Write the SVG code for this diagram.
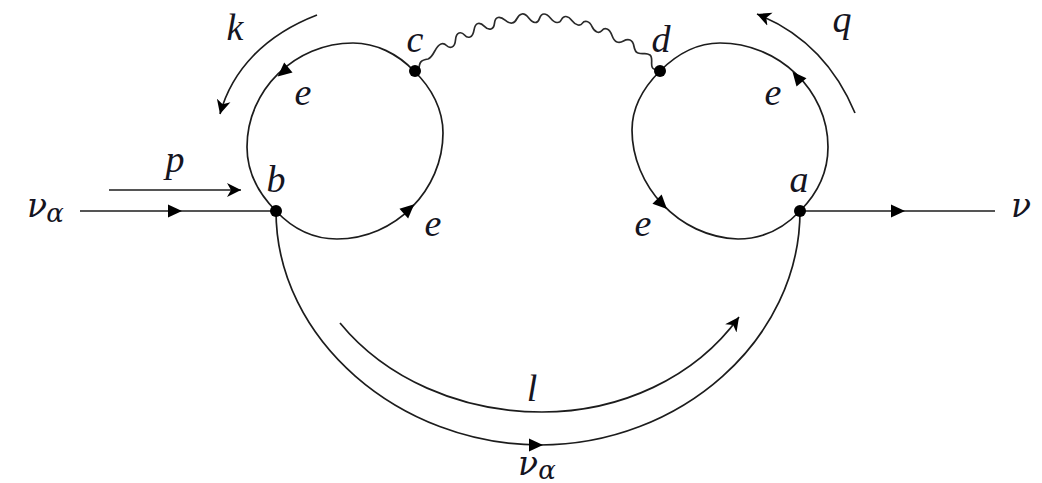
<svg xmlns="http://www.w3.org/2000/svg" width="1042" height="483" viewBox="0 0 1042 483">
<style>
.l{fill:none;stroke:#1c1c1c;stroke-width:1.7}
.w{fill:none;stroke:#2a2a2a;stroke-width:1.7}
.m{stroke-width:1.7;fill:none;stroke:#1c1c1c;marker-end:url(#st)}
.dot{fill:#000}
text{font-family:"Liberation Serif","Times New Roman",serif;font-style:italic;font-size:38px;fill:#15151f;text-anchor:middle}
text.g{font-family:"DejaVu Serif",serif;font-size:33px}
text.s{font-family:"DejaVu Serif",serif;font-size:26px}
</style>
<defs>
<marker id="st" markerUnits="userSpaceOnUse" markerWidth="20" markerHeight="18" refX="14" refY="8" orient="auto">
<path d="M0,1 L14,8 L0,15 L4,8 Z" fill="#000"/>
</marker>
<path id="tri" d="M-7,-6.500 L7,0 L-7,6.500 Z" fill="#000"/>
</defs>
<g id="connectors">
<path class="l" d="M80,211 H276"/>
<path class="l" d="M800,211 H995"/>
<path class="l" d="M276,211 C292,228 312,239 337,239 C395,239 443,190 443,133 C443,110 432,88 414,71 C398,54 376,43 353,43 C295,43 247,90 247,147 C247,171 258,193 276,211"/>
<path class="l" d="M660,71 C677,54 697,43 720,43 C778,43 828,90 828,147 C828,171 818,193 800,211 C784,228 763,239 738,239 C678,237 632,185 632,130 C632,108 643,88 660,71"/>
<path class="l" d="M276,211 C276,340 400,445 540,445 C680,445 800,340 800,211"/>
<path class="w" d="M414,71 L419,70 C419,62 421,60 428,59 C434,57 435,46 441,44 C447,42 446,49 452,47 C458,45 453,35 459,33 C465,31 464,39 470,37 C476,35 472,25 478,23.500 C484,22 485,31 491,29 C497,27 492,19 498,17.500 C504,16 506,24 512,23 C518,22 516,15 522,14 C528,13 529,22 535,22.500 C541,23 538,14 544,14 C550,14 551,22 557,22.500 C563,23 560,16 566,16.500 C572,17 572,24 578,25 C584,26 581,20 587,21.500 C593,23 591,30 597,32 C603,34 601,27 607,29 C613,31 611,40 617,42 C623,44 624,38 630,40 C636,42 632,51 638,53 C644,55 645,52 650,55 C654,58 649,68 654,69 L660,71"/>
<use href="#tri" transform="translate(175,211)"/>
<use href="#tri" transform="translate(898,211)"/>
<use href="#tri" transform="translate(536,445)"/>
<use href="#tri" transform="translate(283,72) rotate(140)"/>
<use href="#tri" transform="translate(409,209) rotate(-42)"/>
<use href="#tri" transform="translate(797,77) rotate(-130)"/>
<use href="#tri" transform="translate(662,204) rotate(45)"/>
<path class="m" d="M109,190 H241"/>
<path class="m" d="M317,15 C265,35 232,70 220,114"/>
<path class="m" d="M855,113 C835,65 802,32 757,14"/>
<path class="m" d="M340,323 C385,378 460,412 542,412 C620,412 695,378 739,317"/>
</g>
<g id="node-b"><circle class="dot" cx="276" cy="211" r="6"/><text x="276" y="192">b</text></g>
<g id="node-c"><circle class="dot" cx="415" cy="71" r="6"/><text x="415" y="52">c</text></g>
<g id="node-d"><circle class="dot" cx="660" cy="71" r="6"/><text x="661" y="52">d</text></g>
<g id="node-a"><circle class="dot" cx="800" cy="211" r="6"/><text x="799" y="192">a</text></g>
<g id="labels">
<text x="235" y="40">k</text>
<text x="175" y="172">p</text>
<text x="842" y="32">q</text>
<text x="303" y="105">e</text>
<text x="433" y="236">e</text>
<text x="773" y="105">e</text>
<text x="643" y="236">e</text>
<text x="532" y="401">l</text>
<text class="g" x="37" y="217">ν</text><text class="s" x="55" y="222">α</text>
<text class="g" x="1021" y="217">ν</text>
<text class="g" x="528" y="475">ν</text><text class="s" x="547" y="479">α</text>
</g>
</svg>
